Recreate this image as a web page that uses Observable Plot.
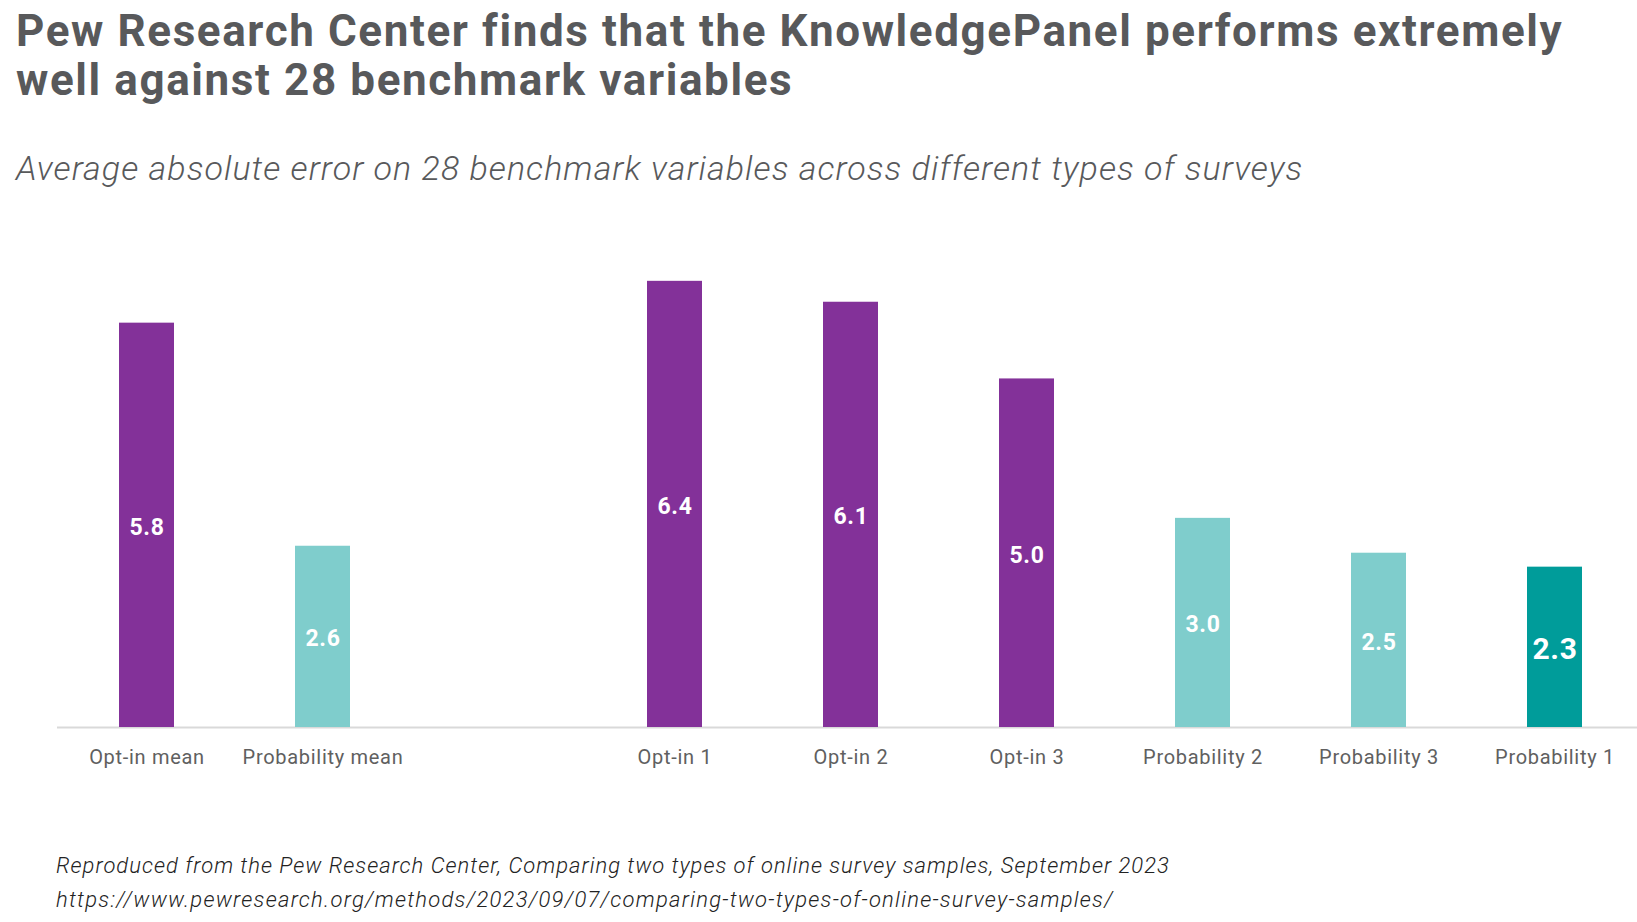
<!DOCTYPE html>
<html>
<head>
<meta charset="utf-8">
<script src="https://cdn.jsdelivr.net/npm/d3@7"></script>
<script src="https://cdn.jsdelivr.net/npm/@observablehq/plot@0.6"></script>
<style>
  html, body { margin: 0; padding: 0; background: #fff; width: 1637px; height: 922px; overflow: hidden; position: relative; }
  .title { position: absolute; left: 16px; top: 7px; font-family: Roboto, sans-serif; font-weight: 700; font-size: 44px; line-height: 49px; color: #58595b; letter-spacing: 1.6px; white-space: nowrap; }
  .subtitle { position: absolute; left: 16px; top: 148px; font-family: Roboto, sans-serif; font-style: italic; font-weight: 300; font-size: 34px; line-height: 40px; color: #58595b; letter-spacing: 1.05px; white-space: nowrap; }
  #chart { position: absolute; left: 0; top: 200px; }
  #chart svg text { letter-spacing: 0.7px; }
  .footer { position: absolute; left: 56px; top: 849px; font-family: Roboto, sans-serif; font-style: italic; font-weight: 300; font-size: 22px; line-height: 34px; color: #222; letter-spacing: 1px; white-space: nowrap; }
  .footer .url { letter-spacing: 1.25px; }
</style>
</head>
<body>
<div class="title">Pew Research Center finds that the KnowledgePanel performs extremely<br>well against 28 benchmark variables</div>
<div class="subtitle">Average absolute error on 28 benchmark variables across different types of surveys</div>
<div id="chart"></div>
<div class="footer">Reproduced from the Pew Research Center, Comparing two types of online survey samples, September 2023<br><span class="url">https://www.pewresearch.org/methods/2023/09/07/comparing-two-types-of-online-survey-samples/</span></div>
<script>
const categories = ["Opt-in mean", "Probability mean", "", "Opt-in 1", "Opt-in 2", "Opt-in 3", "Probability 2", "Probability 3", "Probability 1"];
const surveys = ["Opt-in mean", "Probability mean", "Opt-in 1", "Opt-in 2", "Opt-in 3", "Probability 2", "Probability 3", "Probability 1"];
const values = [5.8, 2.6, 6.4, 6.1, 5.0, 3.0, 2.5, 2.3];
const groups = ["Opt-in", "Probability", "Opt-in", "Opt-in", "Opt-in", "Probability", "Probability", "KnowledgePanel"];
const groupNames = ["Opt-in", "Probability", "KnowledgePanel"];
const groupColors = ["#833199", "#7fcdcc", "#009c9a"];

const data = surveys.map((s, i) => ({survey: s, value: values[i], group: groups[i]}));
const normal = data.filter(d => d.group !== "KnowledgePanel");
const highlight = data.filter(d => d.group === "KnowledgePanel");

const chart = Plot.plot({
  width: 1637,
  height: 600,
  marginLeft: 57,
  marginRight: 0,
  marginTop: 39,
  marginBottom: 73,
  style: {fontFamily: "Roboto, sans-serif", background: "transparent"},
  x: {domain: categories, range: [56.4, 1644.8], paddingInner: 0.69, paddingOuter: 0.345, label: null},
  y: {domain: [0, 7], axis: null},
  color: {domain: groupNames, range: groupColors},
  marks: [
    Plot.ruleY([0], {stroke: "#d9d9d9", strokeWidth: 2}),
    Plot.barY(data, {x: "survey", y: "value", fill: "group"}),
    Plot.text(normal, {x: "survey", y: d => d.value / 2, dy: 2, text: d => d.value.toFixed(1), fill: "white", fontSize: 23, fontWeight: 700}),
    Plot.text(highlight, {x: "survey", y: d => d.value / 2, dy: 2, text: d => d.value.toFixed(1), fill: "white", fontSize: 30, fontWeight: 700}),
    Plot.axisX({ticks: surveys, tickSize: 0, tickPadding: 22, fontSize: 20, color: "#606060", label: null})
  ]
});
document.getElementById("chart").appendChild(chart);
</script>
</body>
</html>
